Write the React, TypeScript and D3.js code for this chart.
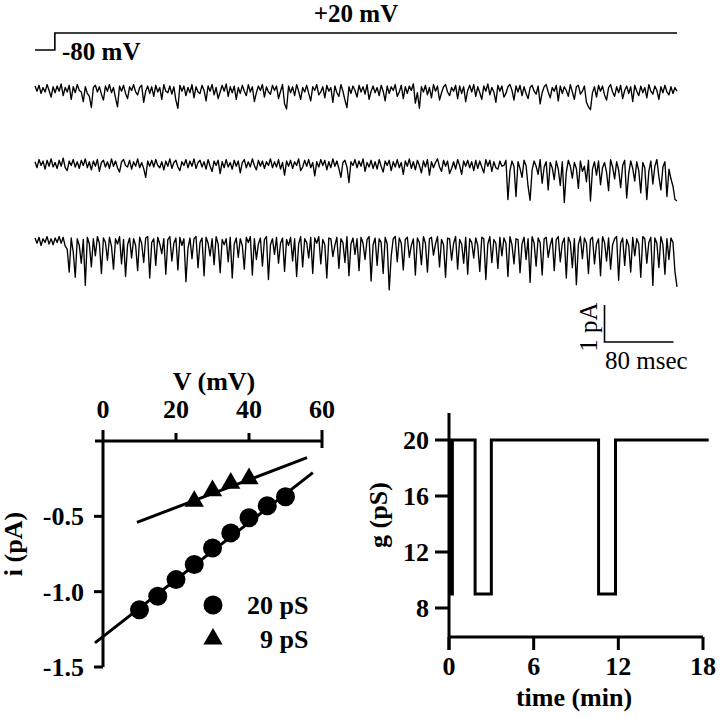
import React, { useEffect, useRef } from "react";
import * as d3 from "d3";

// voltage protocol (ms, mV)
const protocolTimes = [0, 23, 744];
const protocolVolts = [-80, 20, 20];

// single-channel current traces, in 0.01 pA from the closed level, 744 ms each
const traceOne = [
  8, -6, 10, -12, 4, -8, 12, -4, -22, 6, -10, 8, -6, 14, -18, 4, -8, 10, -28, 6,
  -10, 12, -4, -8, -34, 6, -12, -20, -50, 4, 10, -8, 6, -14, -30, 8, -6, 12, -10, 4,
  -24, -48, 8, -6, 10, -12, -26, 6, -4, 12, -8, -16, 4, 10, -36, -6, 8, -12, 6, -20,
  10, -8, 4, -28, 12, -6, -10, 8, -14, 6, -30, -52, 10, -6, 8, -18, 4, -10, 12, -24,
  6, -8, -12, 10, -4, -32, 8, -6, 12, -16, 4, -26, -8, 10, -6, 14, -20, 6, -10, 8,
  -28, 4, -12, 10, -6, -18, 12, -8, 6, -34, -10, 8, -4, 12, -22, 6, -8, -14, 10, -4,
  8, -26, -6, 12, -40, -54, 8, -10, 6, -18, 12, -6, -28, 4, -8, 10, -12, -32, 6, -4,
  12, -16, -8, 6, -24, 10, -6, 4, -36, 8, -10, -20, 12, -6, -30, -50, 6, -12, 8, -4,
  -22, 10, -8, 6, -14, 12, -28, -6, 8, -10, 4, -18, 10, -6, -32, 8, -12, 6, -4, 12,
  -20, -8, 10, -26, 6, -12, 8, -4, 14, -38, -10, -52, 6, -8, 10, -16, 4, -24, 12, -6,
  8, -30, -10, 6, 12, -8, -18, 4, -6, 10, -26, 8, -12, 6, -34, -4, 10, -8, 12, -20,
  6, -10, -28, 8, -6, 14, -16, 4, -8, -36, 10, -6, 8, -22, -12, 6, 12, -4, -30, 8,
  -8, 10, -18, 6, -12, -26, 4, 10, -6, -14, 8, -40, -10, 6, 12, -8, -24, 4, -6, 10,
  -32, 8, -12, 6, -4, -20, 12, -8, -28, 6, 10, -14, -6, 8, -36, -48, -56, -10, 6, -22,
  10, -6, 8, -16, -30, 4, 12, -8, -20, 6, -10, 10, -26, -4, 8, -12, 6, -34, 10, -6,
  -18, 8, -10, 4, -24, 12, -6, -14, 8, -4, -28, 6, -10, 10, -8, -16, 6, -12, 4, -6,
];
const traceTwo = [
  6, -10, 12, -4, 8, -14, 10, -6, 14, -8, 4, -12, 10, -6, 16, -10, -18, 8, -4, 12,
  -8, 6, -12, 10, -4, 14, -10, 6, -16, 8, -6, 12, -20, 4, 10, -8, 6, -12, 14, -6,
  8, -10, -22, 6, 12, -4, -8, 10, -14, 6, -6, 14, -10, 4, -12, -36, 8, -6, 10, -8,
  12, -4, -10, 6, -16, 8, -6, 14, -12, 4, 10, -8, -18, 6, -4, 12, -10, 8, -6, 14,
  -12, 4, 10, -8, 6, -14, 12, -6, -20, 8, -4, 10, -26, 6, -10, 12, -8, 4, -14, 10,
  -6, 8, -24, 4, 12, -10, 6, -8, 14, -4, -16, 10, -6, 8, -12, 6, -4, 14, -10, 6,
  -8, 12, -14, 4, -30, 8, -6, 10, -12, 6, -4, 14, -18, -8, 10, -6, 12, -10, 4, -32,
  6, -8, 12, -4, 10, -16, 6, -10, 14, -6, 8, -12, -36, 4, 10, -8, -50, 6, -4, 12,
  -10, 8, -6, 14, -20, 4, -8, 10, -12, 6, -14, 12, -6, -22, 8, -4, 10, -18, 6, -8,
  12, -10, 4, -28, 8, -6, 14, -12, 6, -16, 10, -4, -24, 8, -8, 12, -30, 6, -10, 4,
  14, -8, -20, 10, -6, 8, -26, -12, 6, -14, 12, -4, -28, 8, -6, 10, -10, 6, -18, 10,
  -12, 8, -8, -24, 12, -6, 10, -20, 6, -10, -14, 8, -6, -4, 10, -96, -18, 8, -6, -88,
  6, -12, -36, 10, -4, -60, -98, -16, 8, -6, -28, 12, -52, -8, 6, -70, 4, -10, -42, 8,
  -14, -58, 6, -104, -22, 10, -6, -38, 4, -12, -66, 8, -20, -6, -48, 10, -100, -14, 6, -30,
  8, -56, -10, 4, -22, -72, 12, -8, -40, 6, -16, -64, -4, 10, -92, -26, 8, -12, -46, 6,
  -18, -78, 4, -10, -96, -20, 8, -54, -6, 12, -34, -70, -8, 6, -88, -14, -40, -60, -96, -100,
];
const traceThree = [
  8, -6, 10, -12, 6, -4, 12, -8, 6, -10, 8, -4, 12, -6, 10, -14, -22, -84, 8, -30,
  -98, 6, -12, -60, 4, -120, 10, -8, -70, 6, -40, 12, -6, -88, 8, -4, -52, 10, -14, -76,
  6, -8, 12, -62, 4, -96, -10, 8, -46, 6, -12, -80, 10, -6, -58, 8, 12, -100, -4, 6,
  -66, 10, -8, -34, 6, -90, 4, 12, -54, -6, 8, -78, 10, -12, 6, -110, -20, 8, -48, 6,
  12, -72, -4, 8, -94, 10, -6, -40, 6, -64, 12, -8, -86, 4, -10, 6, -56, 10, -100, -8,
  8, -44, 6, -12, -76, 10, -4, 12, -92, 6, -50, -8, 8, -68, 4, 12, -104, -10, 6, -36,
  10, -60, -6, 8, -82, 4, -12, 10, -54, 6, -96, -8, 12, -70, 6, -4, -46, 10, -88, 8,
  -6, 12, -62, 4, -10, -100, 8, 6, -42, -12, 10, -74, 6, -4, -58, 12, -94, -8, 8, -36,
  6, -80, 10, -6, -50, 4, 12, -108, -10, 8, -66, 6, -4, -88, 10, -8, -132, -40, 6, 12,
  -56, 8, -6, -78, 4, 10, -44, -12, 6, -92, 8, -4, -64, 12, -6, -84, 6, 10, -38, -8,
  12, -70, 4, -10, -98, 8, 6, -52, -6, 12, -76, 4, -8, -60, 10, -90, 6, -4, -46, 8,
  -12, -82, 10, 6, -104, -8, 12, -58, 4, -6, -74, 10, -40, 8, -6, -96, 12, -10, -62, 6,
  4, -86, -8, 10, -50, 6, -112, 12, -6, -68, 8, -4, -92, 6, 10, -44, -12, 8, -80, 4,
  12, -56, -6, 8, -100, 10, -4, -72, 6, -118, -10, 12, -48, 8, -6, -88, 4, 10, -62, -8,
  6, -94, 12, -4, -54, 8, -76, -10, 6, 12, -106, -6, 8, -66, 4, -12, -84, 10, -40, 6,
  -8, -98, 12, 6, -60, -4, 10, -120, 8, -6, -72, 12, -10, -90, 6, -50, 8, -4, -84, -124,
];

// i-V relation
const voltsLarge = [10, 15, 20, 25, 30, 35, 40, 45, 50];
const currentLarge = [-1.12, -1.03, -0.92, -0.82, -0.71, -0.61, -0.51, -0.43, -0.37];
const voltsSmall = [25, 30, 35, 40];
const currentSmall = [-0.4, -0.33, -0.28, -0.25];
const fitLargeV = [-2.2, 57.5];
const fitLargeI = [-1.34, -0.21];
const fitSmallV = [9.3, 55.9];
const fitSmallI = [-0.54, -0.11];
const vTicks = [0, 20, 40, 60];
const iTicks = [-0.5, -1.0, -1.5];

// conductance vs time
const gTimes = [0, 0.06, 0.12, 0.18, 0.24, 0.3, 1.85, 3.0, 10.6, 11.8, 18.4];
const gValues = [20, 9, 20, 9, 20, 20, 9, 20, 9, 20, 20];
const timeTicks = [0, 6, 12, 18];
const gTicks = [8, 12, 16, 20];

const FONT = "Liberation Serif, Times New Roman, serif";

const App = () => {
  const svgRef = useRef(null);

  const renderChart = () => {
    const svg = d3.select(svgRef.current);
    svg.selectAll("*").remove();

    const label = (x, y, txt, opts = {}) =>
      svg
        .append("text")
        .attr("x", x)
        .attr("y", y)
        .attr("font-family", FONT)
        .attr("font-size", opts.size || 26)
        .attr("font-weight", opts.weight || "bold")
        .attr("text-anchor", opts.anchor || "start")
        .attr("transform", opts.rotate ? `rotate(-90, ${x}, ${y})` : null)
        .text(txt);

    // ---- traces ----
    const tScale = d3.scaleLinear().domain([0, 744]).range([35, 677]);
    const vScale = d3.scaleLinear().domain([-80, 20]).range([50, 33]);

    const protocol = protocolTimes.map((t, i) => [t, protocolVolts[i]]);
    svg
      .append("path")
      .attr("d", d3.line().x((d) => tScale(d[0])).y((d) => vScale(d[1])).curve(d3.curveStepAfter)(protocol))
      .attr("fill", "none")
      .attr("stroke", "#000")
      .attr("stroke-width", 1.6);

    label(356, 22, "+20 mV", { anchor: "middle", size: 25 });
    label(62, 60, "-80 mV", { size: 25 });

    const traces = [
      { data: traceOne, base: 89 },
      { data: traceTwo, base: 164 },
      { data: traceThree, base: 241 },
    ];
    traces.forEach(({ data, base }) => {
      const yScale = d3.scaleLinear().domain([0, -1]).range([base, base + 37]);
      const dt = 744 / (data.length - 1);
      const line = d3
        .line()
        .x((d, i) => tScale(i * dt))
        .y((d) => yScale(d / 100));
      svg
        .append("path")
        .attr("d", line(data))
        .attr("fill", "none")
        .attr("stroke", "#000")
        .attr("stroke-width", 1.35)
        .attr("stroke-linejoin", "round");
    });

    // scale bar: 1 pA, 80 msec
    const barT = 660;
    const barX0 = tScale(barT);
    const barX1 = tScale(barT + 80);
    const barY = 342;
    svg
      .append("path")
      .attr("d", `M${barX0},${barY - 37}V${barY}H${barX1}`)
      .attr("fill", "none")
      .attr("stroke", "#000")
      .attr("stroke-width", 1.6);
    label(597, 327, "1 pA", { weight: "normal", anchor: "middle", rotate: true, size: 25 });
    label(605, 369, "80 msec", { weight: "normal", size: 25 });

    // ---- i-V plot ----
    const x = d3.scaleLinear().domain([0, 60]).range([103, 322]);
    const y = d3.scaleLinear().domain([0, -1.5]).range([441, 667]);
    const axisStroke = 3;

    svg.append("line").attr("x1", 95).attr("x2", x(60)).attr("y1", y(0)).attr("y2", y(0))
      .attr("stroke", "#000").attr("stroke-width", axisStroke);
    svg.append("line").attr("x1", x(0)).attr("x2", x(0)).attr("y1", 430).attr("y2", y(-1.5))
      .attr("stroke", "#000").attr("stroke-width", axisStroke);
    vTicks.slice(1).forEach((v) => {
      svg.append("line").attr("x1", x(v)).attr("x2", x(v))
        .attr("y1", v === 60 ? 430 : 433).attr("y2", v === 60 ? 448 : y(0))
        .attr("stroke", "#000").attr("stroke-width", axisStroke);
    });
    vTicks.forEach((v) => label(x(v), 418, String(v), { anchor: "middle" }));
    iTicks.forEach((v) => {
      svg.append("line").attr("x1", 94).attr("x2", x(0)).attr("y1", y(v)).attr("y2", y(v))
        .attr("stroke", "#000").attr("stroke-width", axisStroke);
      label(84, y(v) + 9, v.toFixed(1), { anchor: "end" });
    });
    label(214, 390, "V (mV)", { anchor: "middle" });
    label(22, 544, "i (pA)", { anchor: "middle", rotate: true });

    const fitLine = d3.line().x((d) => x(d[0])).y((d) => y(d[1]));
    [
      fitLargeV.map((v, i) => [v, fitLargeI[i]]),
      fitSmallV.map((v, i) => [v, fitSmallI[i]]),
    ].forEach((pts) => {
      svg.append("path").attr("d", fitLine(pts)).attr("fill", "none")
        .attr("stroke", "#000").attr("stroke-width", 3);
    });

    svg.selectAll(".dot")
      .data(voltsLarge)
      .enter()
      .append("circle")
      .attr("cx", (v) => x(v))
      .attr("cy", (v, i) => y(currentLarge[i]))
      .attr("r", 9.5)
      .attr("fill", "#000");

    const tri = d3.symbol(d3.symbolTriangle, 160);
    svg.selectAll(".tri")
      .data(voltsSmall)
      .enter()
      .append("path")
      .attr("d", tri())
      .attr("transform", (v, i) => `translate(${x(v)},${y(currentSmall[i])})`)
      .attr("fill", "#000");

    // legend
    svg.append("circle").attr("cx", 213).attr("cy", 605).attr("r", 9.5).attr("fill", "#000");
    label(247, 614, "20 pS");
    svg.append("path").attr("d", tri()).attr("transform", "translate(213,639)").attr("fill", "#000");
    label(260, 648, "9 pS");

    // ---- g vs time ----
    const gx = d3.scaleLinear().domain([0, 18]).range([449, 703]);
    const gy = d3.scaleLinear().domain([8, 20]).range([608, 440]);
    const axisY = 637;

    svg.append("line").attr("x1", gx(0)).attr("x2", gx(0)).attr("y1", 413).attr("y2", 650)
      .attr("stroke", "#000").attr("stroke-width", axisStroke);
    svg.append("line").attr("x1", gx(0)).attr("x2", gx(18)).attr("y1", axisY).attr("y2", axisY)
      .attr("stroke", "#000").attr("stroke-width", axisStroke);
    timeTicks.forEach((t) => {
      svg.append("line").attr("x1", gx(t)).attr("x2", gx(t)).attr("y1", axisY).attr("y2", 650)
        .attr("stroke", "#000").attr("stroke-width", axisStroke);
      label(gx(t), 675, String(t), { anchor: "middle" });
    });
    gTicks.forEach((g) => {
      svg.append("line").attr("x1", 435).attr("x2", gx(0)).attr("y1", gy(g)).attr("y2", gy(g))
        .attr("stroke", "#000").attr("stroke-width", axisStroke);
      label(429, gy(g) + 9, String(g), { anchor: "end" });
    });
    label(574, 706, "time (min)", { anchor: "middle" });
    label(387, 515, "g (pS)", { anchor: "middle", rotate: true });

    const gPts = gTimes.map((t, i) => [t, gValues[i]]);
    svg.append("path")
      .attr("d", d3.line().x((d) => gx(d[0])).y((d) => gy(d[1])).curve(d3.curveStepAfter)(gPts))
      .attr("fill", "none")
      .attr("stroke", "#000")
      .attr("stroke-width", 3);
  };

  useEffect(() => {
    renderChart();
  }, []);

  return (
    <svg
      ref={svgRef}
      width={720}
      height={718}
      style={{ position: "absolute", left: 0, top: 0, background: "#fff" }}
    />
  );
};

export default App;
